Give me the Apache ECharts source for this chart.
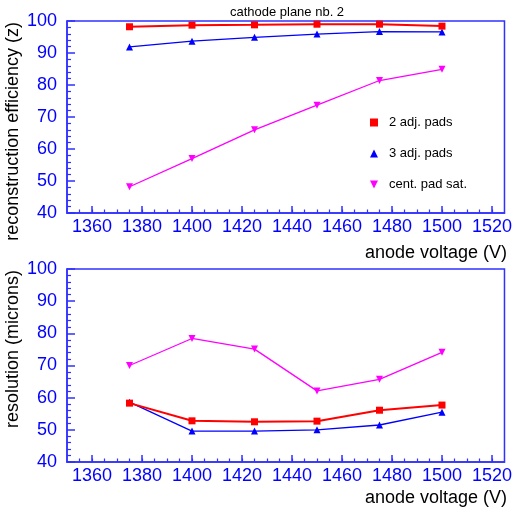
<!DOCTYPE html>
<html><head><meta charset="utf-8">
<script src="https://cdn.jsdelivr.net/npm/echarts@6/dist/echarts.min.js"></script>
<style>html,body{margin:0;padding:0;background:#fff}#c{width:515px;height:512px}</style>
</head><body><div id="c"></div>
<script>
const voltages = [1375, 1400, 1425, 1450, 1475, 1500];
const effTwoAdj = [98.2, 98.7, 98.8, 99.0, 99.0, 98.4];
const effThreeAdj = [91.9, 93.7, 94.9, 95.9, 96.7, 96.6];
const effCentSat = [48.2, 57.0, 66.0, 73.7, 81.4, 84.9];
const resTwoAdj = [58.3, 52.8, 52.5, 52.7, 56.1, 57.7];
const resThreeAdj = [58.6, 49.6, 49.6, 50.0, 51.5, 55.5];
const resCentSat = [70.0, 78.4, 75.1, 62.1, 65.7, 74.1];
const xMajorTicks = [1360, 1380, 1400, 1420, 1440, 1460, 1480, 1500, 1520];
const xMinorTicks = [1355,1360,1365,1370,1375,1380,1385,1390,1395,1400,1405,1410,1415,1420,1425,1430,1435,1440,1445,1450,1455,1460,1465,1470,1475,1480,1485,1490,1495,1500,1505,1510,1515,1520];
const yLabels = [40, 50, 60, 70, 80, 90, 100];
const seriesNames = ['2 adj. pads', '3 adj. pads', 'cent. pad sat.'];
const plotTitle = 'cathode plane nb. 2';
const xTitle = 'anode voltage (V)';
const yTitles = ['reconstruction efficiency (z)', 'resolution (microns)'];

const BLUE = '#0000ff', FRAME = '#3030ff';
const colors = ['#ff0000', '#0000ff', '#ff00ff'];
const symbols = ['rect', 'triangle', 'triangle'];
const rotates = [0, 0, 180];
const widths = [2, 1.3, 1.3];
const FONT = 'Liberation Sans, Arial, sans-serif';

const grids = [
  {left: 67, top: 21, width: 440, height: 192, show: true, borderColor: FRAME, borderWidth: 1.5, backgroundColor: 'transparent'},
  {left: 67, top: 269, width: 440, height: 193, show: true, borderColor: FRAME, borderWidth: 1.5, backgroundColor: 'transparent'}
];
const xAxes = [], yAxes = [];
[0, 1].forEach(g => {
  xAxes.push({
    type: 'value', gridIndex: g, position: 'bottom', min: 1350, max: 1525,
    axisLine: {show: true, onZero: false, lineStyle: {color: FRAME, width: 1.5}},
    axisTick: {show: true, inside: true, length: 7, customValues: xMajorTicks, lineStyle: {color: FRAME, width: 1.5}},
    axisLabel: {customValues: xMajorTicks, formatter: v => String(v), color: BLUE, fontSize: 18, fontFamily: FONT, margin: 5},
    splitLine: {show: false}
  });
  xAxes.push({
    type: 'value', gridIndex: g, position: 'bottom', min: 1350, max: 1525,
    axisLine: {show: false},
    axisTick: {show: true, inside: true, length: 3.5, customValues: xMinorTicks, lineStyle: {color: FRAME, width: 1.2}},
    axisLabel: {show: false}, splitLine: {show: false}
  });
  yAxes.push({
    type: 'value', gridIndex: g, min: 40, max: 100, interval: 10,
    axisLine: {show: true, lineStyle: {color: FRAME, width: 1.5}},
    axisTick: {show: true, inside: true, length: 8, lineStyle: {color: FRAME, width: 1.5}},
    minorTick: {show: true, splitNumber: 5, length: 4, lineStyle: {color: FRAME, width: 1.2}},
    axisLabel: {customValues: yLabels, color: BLUE, fontSize: 18, fontFamily: FONT, margin: 10},
    splitLine: {show: false}
  });
});

const sets = [[effTwoAdj, effThreeAdj, effCentSat], [resTwoAdj, resThreeAdj, resCentSat]];
const series = [];
sets.forEach((arrs, g) => {
  arrs.forEach((vals, i) => {
    series.push({
      type: 'line', name: seriesNames[i], xAxisIndex: g * 2, yAxisIndex: g,
      data: voltages.map((v, k) => [v, vals[k]]),
      symbol: symbols[i], symbolRotate: rotates[i], symbolSize: 7,
      showAllSymbol: true,
      lineStyle: {color: colors[i], width: widths[i]},
      itemStyle: {color: colors[i]},
      emphasis: {disabled: true}, z: 3 - i
    });
  });
});

const chart = echarts.init(document.getElementById('c'), null, {renderer: 'canvas'});
chart.setOption({
  animation: false,
  grid: grids, xAxis: xAxes, yAxis: yAxes, series: series,
  legend: {
    orient: 'vertical', left: 365, top: 111, itemWidth: 8, itemHeight: 8, itemGap: 18,
    selectedMode: false,
    data: [
      {name: seriesNames[0], icon: 'rect'},
      {name: seriesNames[1], icon: 'triangle'},
      {name: seriesNames[2], icon: 'path://M0,0L10,0L5,10Z'}
    ],
    textStyle: {color: '#000', fontSize: 13, fontFamily: FONT, padding: [0, 0, 0, 6]}
  },
  graphic: [
    {type: 'text', x: 287, y: 12, style: {text: plotTitle, fill: '#000', font: '13px ' + FONT, textAlign: 'center', textVerticalAlign: 'middle'}},
    {type: 'text', right: 8, top: 244, style: {text: xTitle, fill: '#000', font: '18px ' + FONT}},
    {type: 'text', right: 8, top: 489, style: {text: xTitle, fill: '#000', font: '18px ' + FONT}},
    {type: 'text', x: 13, y: 22, rotation: Math.PI / 2, style: {text: yTitles[0], fill: '#000', font: '18px ' + FONT, textAlign: 'right', textVerticalAlign: 'middle'}},
    {type: 'text', x: 13, y: 270, rotation: Math.PI / 2, style: {text: yTitles[1], fill: '#000', font: '18px ' + FONT, textAlign: 'right', textVerticalAlign: 'middle'}}
  ]
});
</script></body></html>
